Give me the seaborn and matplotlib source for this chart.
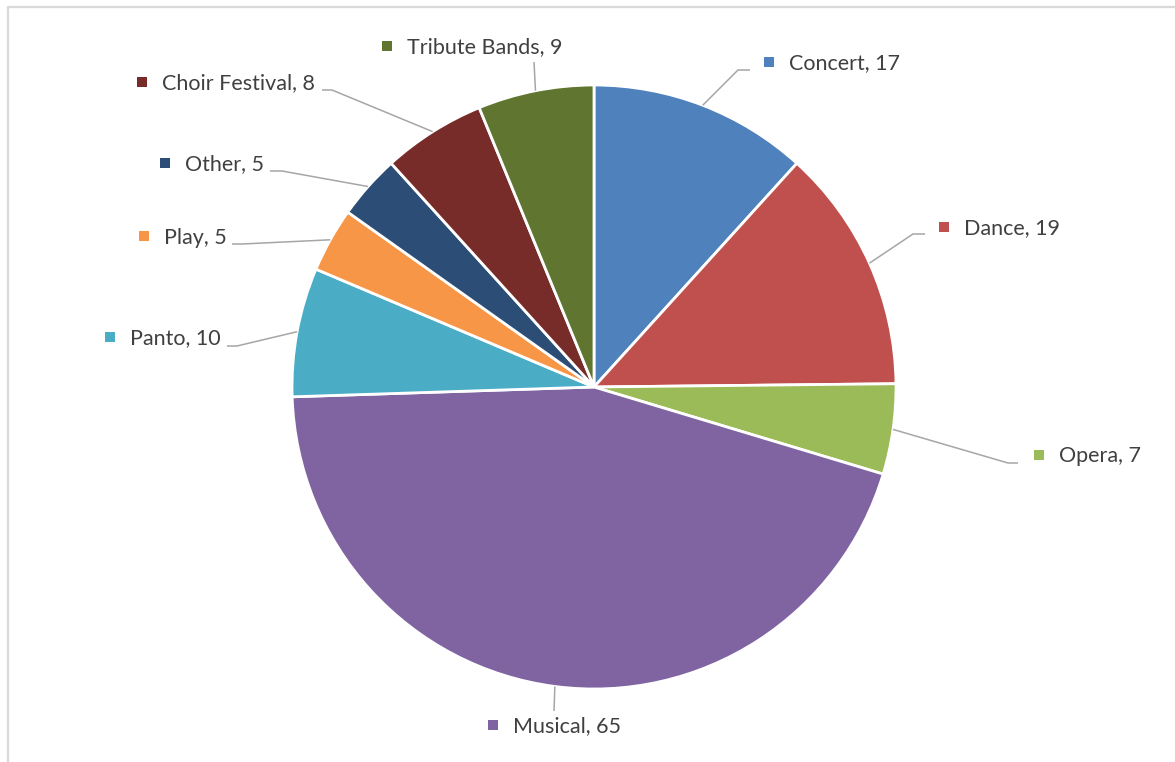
import matplotlib
matplotlib.use("Agg")
import matplotlib.pyplot as plt
import seaborn as sns
import numpy as np

# Event categories, clockwise from 12 o'clock
categories = ["Concert", "Dance", "Opera", "Musical", "Panto",
              "Play", "Other", "Choir Festival", "Tribute Bands"]
counts = [17, 19, 7, 65, 10, 5, 5, 8, 9]
colors = ["#4F81BD", "#C0504D", "#9BBB59", "#8064A2", "#4BACC6",
          "#F79646", "#2C4D75", "#772C2A", "#5F7530"]

# Label layout in pixel space (x right, y down): marker centre, text start,
# and leader-line bend points after leaving the wedge edge.
label_marker = {
    "Concert": (769, 62), "Dance": (944, 227), "Opera": (1039, 455),
    "Musical": (493, 725), "Panto": (110, 337), "Play": (144, 236),
    "Other": (165, 163), "Choir Festival": (142, 82), "Tribute Bands": (387, 46),
}
leader_path = {
    "Concert": [(738, 70), (750, 70)],
    "Dance": [(913, 234), (925, 234)],
    "Opera": [(1008, 463), (1018, 463)],
    "Musical": [(554, 711)],
    "Panto": [(237, 346), (227, 346)],
    "Play": [(242, 244), (232, 244)],
    "Other": [(282, 171), (270, 171)],
    "Choir Festival": [(332, 90), (322, 90)],
    "Tribute Bands": [(534, 62)],
}

W, H = 1175, 762
sns.set_theme(style="white")
plt.rcParams["font.family"] = ["Lato", "DejaVu Sans"]

fig = plt.figure(figsize=(W / 100, H / 100), dpi=100)
ax = fig.add_axes([0, 0, 1, 1])
ax.set_xlim(0, W)
ax.set_ylim(0, H)
ax.set_aspect("equal")
ax.axis("off")

cx, cy, r = 594, H - 387, 302
wedges, _ = ax.pie(counts, colors=colors, startangle=90, counterclock=False,
                   center=(cx, cy), radius=r, frame=True,
                   wedgeprops=dict(edgecolor="white", linewidth=2.0))
ax.set_xlim(0, W)
ax.set_ylim(0, H)
ax.axis("off")

text_color = "#404040"
line_color = "#A6A6A6"
for wedge, name, val, col in zip(wedges, categories, counts, colors):
    mid = np.deg2rad((wedge.theta1 + wedge.theta2) / 2)
    sx, sy = cx + r * np.cos(mid), cy + r * np.sin(mid)
    xs = [sx] + [p[0] for p in leader_path[name]]
    ys = [sy] + [H - p[1] for p in leader_path[name]]
    ax.plot(xs, ys, color=line_color, lw=1.1, solid_capstyle="butt", zorder=1)

    mx, my = label_marker[name]
    ax.plot([mx], [H - my], marker="s", ms=6.5, color=col, mew=0, zorder=3)
    ax.text(mx + 20, H - my - 7.5, f"{name}, {val}", color=text_color,
            fontsize=15.5, ha="left", va="baseline", zorder=3)

# Chart frame (top and left edges visible)
ax.plot([8, 8, W], [0, H - 7, H - 7], color="#D9D9D9", lw=1.6,
        clip_on=False, zorder=0)

fig.savefig("out.png", dpi=100, facecolor="white")
